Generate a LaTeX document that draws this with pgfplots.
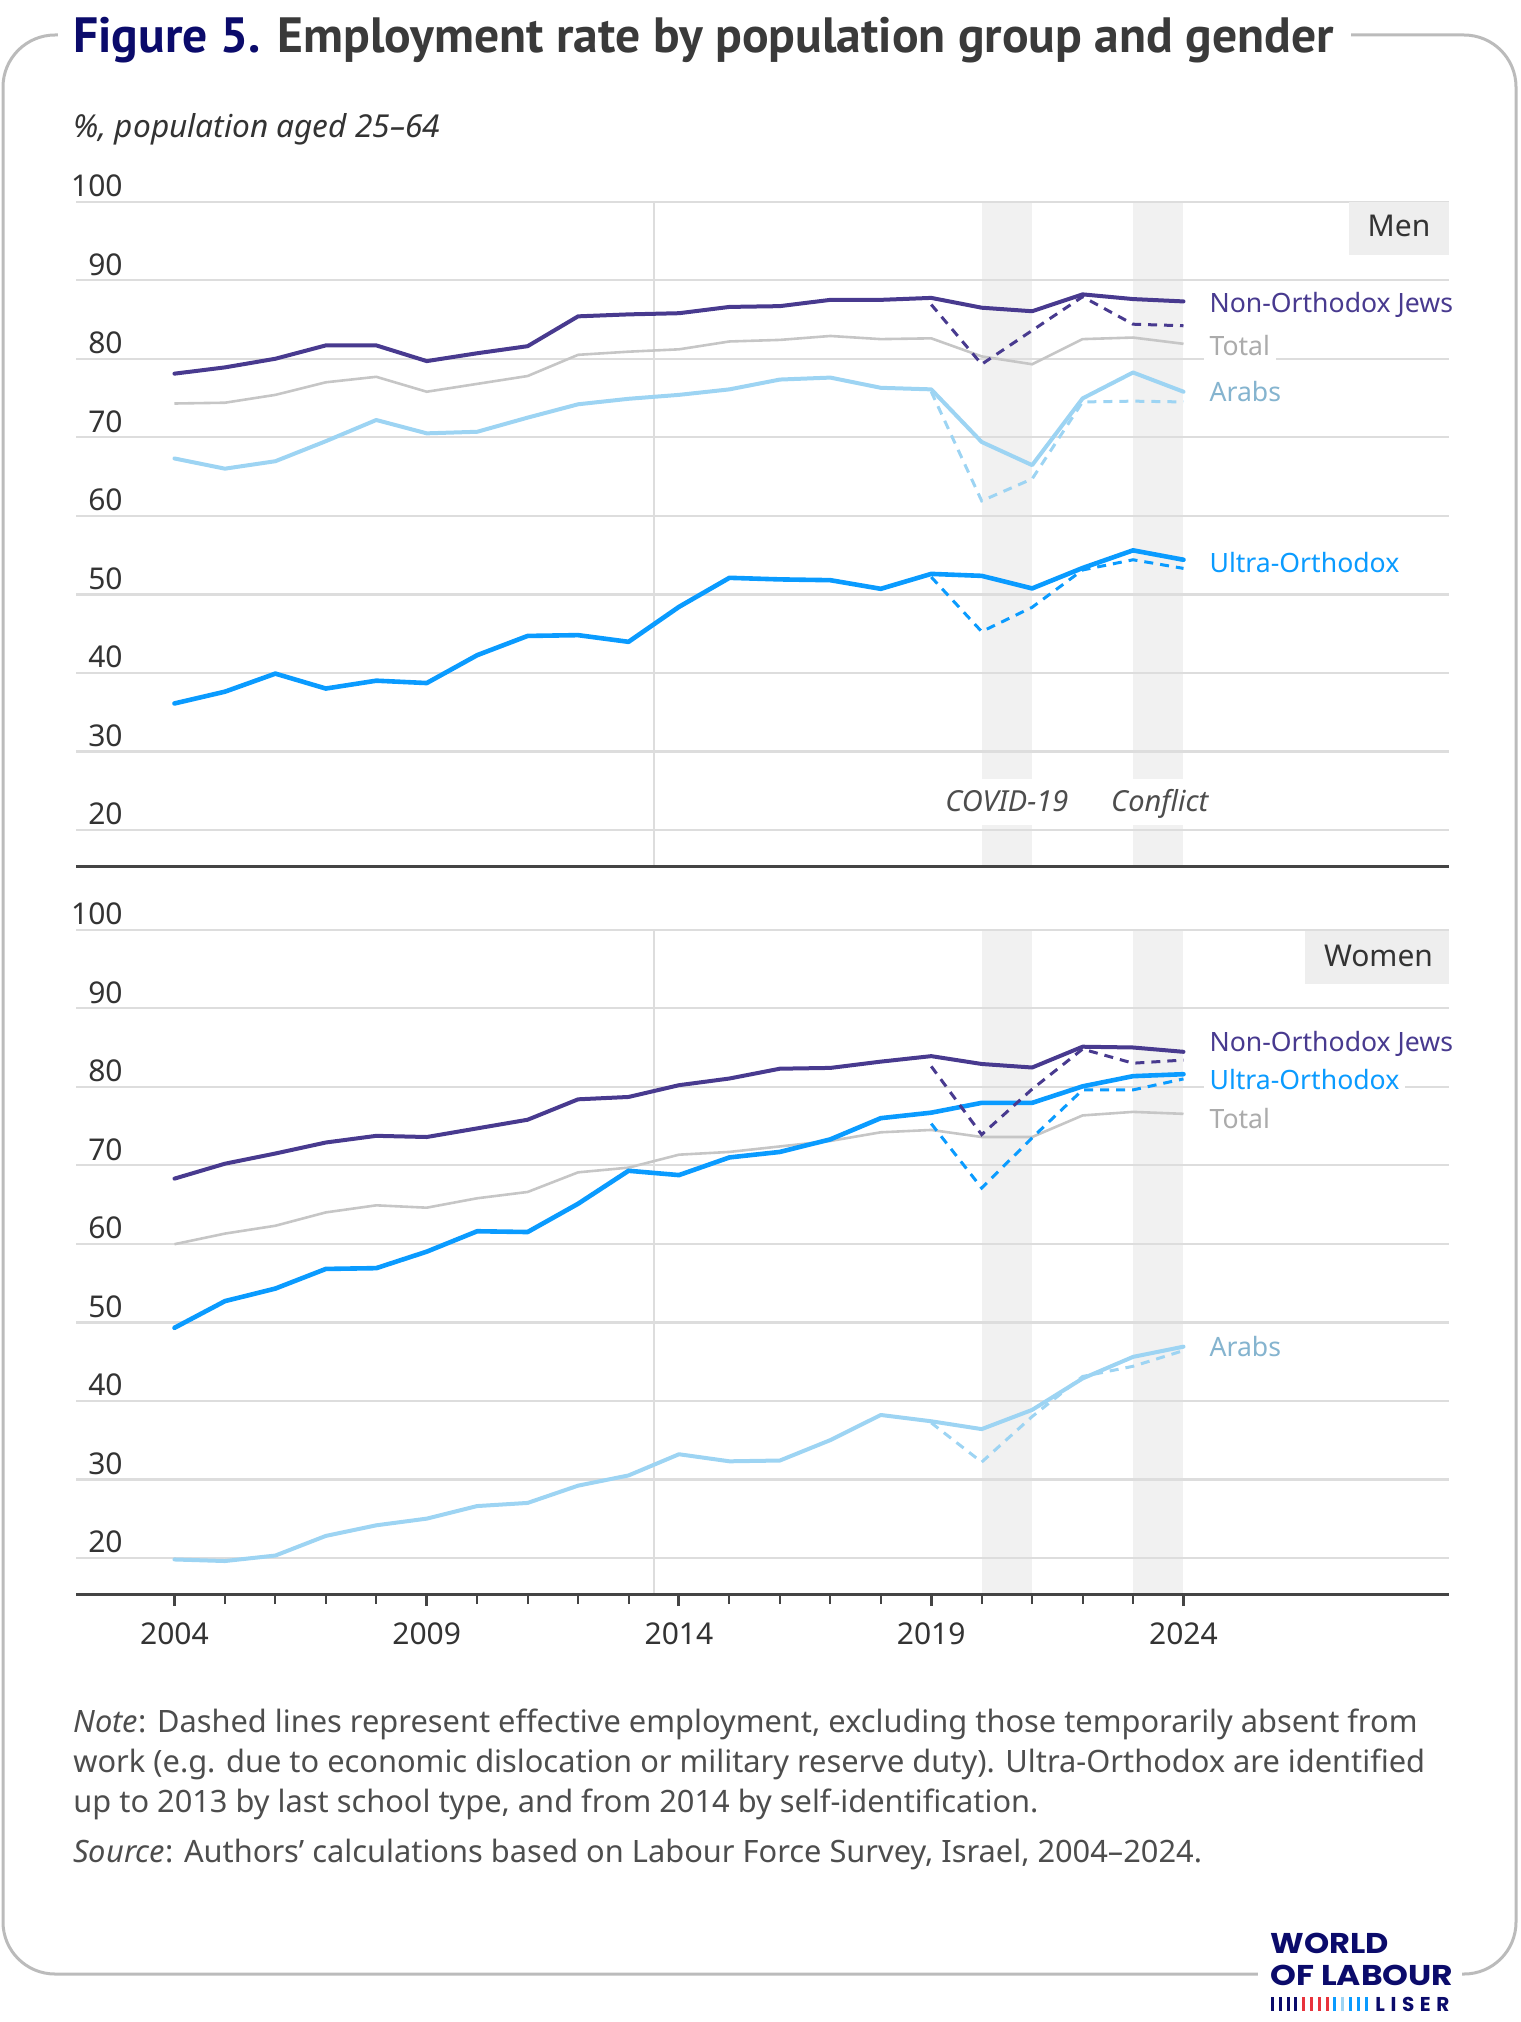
\documentclass[border=0pt]{standalone}
\usepackage{fontspec}
\setmainfont{Noto Sans}
\newfontfamily\titlefont{PT Sans}
\newfontfamily\logofont{Poppins}
\usepackage{pgfplots}
\usepackage{pgfplotstable}
\pgfplotsset{compat=1.18}

\definecolor{noj}{HTML}{483A8F}
\definecolor{uo}{HTML}{0A9BFF}
\definecolor{arab}{HTML}{9DD4F3}
\definecolor{tot}{HTML}{C6C6C6}
\definecolor{totlab}{HTML}{ABABAB}
\definecolor{gridc}{HTML}{DDDDDD}
\definecolor{shadec}{HTML}{F1F1F1}
\definecolor{axisc}{HTML}{444444}
\definecolor{txt}{HTML}{333333}
\definecolor{notec}{HTML}{4D4D4D}
\definecolor{navy}{HTML}{0B0B6B}
\definecolor{titleg}{HTML}{3A3A3A}
\definecolor{framec}{HTML}{BBBBBB}
\definecolor{boxc}{HTML}{EEEEEE}
\definecolor{lred}{HTML}{E8333C}

\pgfplotstableread{
year noj tot arab uo
2004 78.1 74.3 67.3 36.1
2005 78.9 74.4 66.0 37.6
2006 80.0 75.4 66.95 39.9
2007 81.7 77.0 69.5 38.0
2008 81.7 77.7 72.2 39.0
2009 79.7 75.8 70.5 38.7
2010 80.7 76.8 70.7 42.25
2011 81.6 77.8 72.5 44.7
2012 85.4 80.5 74.2 44.8
2013 85.65 80.9 74.9 43.95
2014 85.8 81.2 75.4 48.4
2015 86.6 82.2 76.1 52.1
2016 86.7 82.4 77.35 51.9
2017 87.5 82.9 77.6 51.8
2018 87.5 82.5 76.3 50.7
2019 87.75 82.6 76.1 52.6
2020 86.5 80.3 69.4 52.35
2021 86.05 79.3 66.45 50.75
2022 88.2 82.5 74.95 53.35
2023 87.6 82.7 78.25 55.6
2024 87.3 81.9 75.8 54.4
}\menT
\pgfplotstableread{
year noj arab uo
2019 86.9 75.8 52.2
2020 79.3 61.9 45.25
2021 83.6 64.7 48.35
2022 87.9 74.5 53.1
2023 84.4 74.6 54.4
2024 84.2 74.5 53.3
}\menD
\pgfplotstableread{
year noj tot arab uo
2004 68.3 59.95 19.8 49.3
2005 70.2 61.3 19.6 52.7
2006 71.5 62.3 20.3 54.3
2007 72.9 64.0 22.8 56.8
2008 73.75 64.9 24.15 56.9
2009 73.6 64.6 25.0 59.0
2010 74.7 65.8 26.6 61.6
2011 75.8 66.6 27.0 61.5
2012 78.4 69.1 29.2 65.1
2013 78.7 69.7 30.5 69.3
2014 80.2 71.35 33.2 68.75
2015 81.05 71.7 32.3 71.0
2016 82.3 72.4 32.4 71.7
2017 82.4 73.1 35.0 73.3
2018 83.2 74.2 38.2 76.0
2019 83.9 74.5 37.4 76.7
2020 82.9 73.6 36.4 77.95
2021 82.45 73.6 38.85 77.95
2022 85.1 76.35 42.85 80.05
2023 85.0 76.8 45.6 81.35
2024 84.45 76.55 46.9 81.6
}\womT
\pgfplotstableread{
year noj arab uo
2019 82.6 37.2 75.3
2020 73.9 32.2 67.1
2021 79.7 38.0 73.5
2022 84.8 43.1 79.6
2023 83.0 44.4 79.6
2024 83.4 46.4 81.0
}\womD

\newcommand{\labf}{\fontsize{13.3}{13.3}\selectfont}
\tikzset{
  solidl/.style={line width=2pt, line join=round, line cap=round},
  dashl/.style={line width=1.5pt, dash pattern=on 4.5pt off 3.5pt},
  lab/.style={anchor=base west, inner xsep=3pt, inner ysep=3pt, fill=white, font=\labf},
}
\pgfplotsset{
  panel/.style={
    scale only axis, width=686.5pt, height=332.15pt,
    xmin=2002.048, xmax=2029.263, ymin=15.4, ymax=100,
    set layers, clip=false,
    axis x line*=bottom, axis y line*=left,
    y axis line style={draw=none},
    x axis line style={draw=axisc, line width=1.5pt},
    ytick={20,30,...,100},
    yticklabels={20,30,40,50,60,70,80,90,100},
    ytick style={draw=none},
    ymajorgrids, grid style={draw=gridc, line width=1.2pt},
    yticklabel style={anchor=base east, inner sep=0pt, xshift=23.5pt, yshift=2.5pt,
      font=\fontsize{15}{15}\selectfont, text=txt},
    xticklabel style={anchor=base, inner sep=0pt, font=\fontsize{15}{15}\selectfont, text=txt},
  },
}

\begin{document}
\begin{tikzpicture}[x=0.5pt,y=-0.5pt]
\path (0,0) rectangle (1520,2022);
% frame
\draw[framec, line width=1.5pt, rounded corners=26pt] (3,35) rectangle (1516,1974);
\fill[white] (58,24) rectangle (1351,47);
\fill[white] (1258,1963) rectangle (1462,1986);
% title
\node[anchor=base west, inner sep=0pt, font=\titlefont\bfseries\fontsize{24.8}{24.8}\selectfont] at (73,53)
  {\textcolor{navy}{Figure 5.} \textcolor{titleg}{Employment rate by population group and gender}};
\node[anchor=base west, inner sep=0pt, font=\itshape\fontsize{15.8}{15.8}\selectfont, text=txt] at (73,138)
  {\%, population aged 25–64};

% ---------- Men ----------
\begin{axis}[panel, at={(38pt,-433pt)}, anchor=south west, xtick=\empty]
\begin{pgfonlayer}{axis background}
\fill[shadec] (axis cs:2020,15.4) rectangle (axis cs:2021,20.6);
\fill[shadec] (axis cs:2020,26.5) rectangle (axis cs:2021,100);
\fill[shadec] (axis cs:2023,15.4) rectangle (axis cs:2024,20.6);
\fill[shadec] (axis cs:2023,26.5) rectangle (axis cs:2024,100);
\draw[gridc, line width=1pt] (axis cs:2013.5,15.4) -- (axis cs:2013.5,100);
\end{pgfonlayer}
\addplot[tot, line width=1.3pt] table[x=year,y=tot] {\menT};
\addplot[arab, dashl] table[x=year,y=arab] {\menD};
\addplot[arab, solidl] table[x=year,y=arab] {\menT};
\addplot[uo, dashl] table[x=year,y=uo] {\menD};
\addplot[uo, solidl, line width=2.3pt] table[x=year,y=uo] {\menT};
\addplot[noj, dashl] table[x=year,y=noj] {\menD};
\addplot[noj, solidl] table[x=year,y=noj] {\menT};
\node[lab, text=noj] at (axis cs:2024.39,85.95) {Non-Orthodox Jews};
\node[lab, text=totlab] at (axis cs:2024.39,80.47) {Total};
\node[lab, text=arab!85!black] at (axis cs:2024.39,74.5) {Arabs};
\node[lab, text=uo] at (axis cs:2024.39,52.84) {Ultra-Orthodox};
\node[anchor=base, inner sep=0pt, font=\itshape\fontsize{14.5}{14.5}\selectfont, text=notec] at (axis cs:2020.5,22.4) {COVID-19};
\node[anchor=base, inner sep=0pt, font=\itshape\fontsize{14.5}{14.5}\selectfont, text=notec] at (axis cs:2023.53,22.4) {Conflict};
\end{axis}

% ---------- Women ----------
\begin{axis}[panel, at={(38pt,-797pt)}, anchor=south west,
  xtick={2004,2009,2014,2019,2024}, xticklabels={2004,2009,2014,2019,2024},
  minor xtick={2005,2006,2007,2008,2010,2011,2012,2013,2015,2016,2017,2018,2020,2021,2022,2023},
  tick align=outside, major tick length=6pt, minor tick length=5pt,
  major x tick style={draw=axisc, line width=1.5pt},
  minor x tick style={draw=axisc, line width=1pt},
  xticklabel style={yshift=-19pt},
  yticklabel style={xshift=6pt}]
\begin{pgfonlayer}{axis background}
\fill[shadec] (axis cs:2020,15.4) rectangle (axis cs:2021,100);
\fill[shadec] (axis cs:2023,15.4) rectangle (axis cs:2024,100);
\draw[gridc, line width=1pt] (axis cs:2013.5,15.4) -- (axis cs:2013.5,100);
\end{pgfonlayer}
\addplot[tot, line width=1.3pt] table[x=year,y=tot] {\womT};
\addplot[arab, dashl] table[x=year,y=arab] {\womD};
\addplot[arab, solidl] table[x=year,y=arab] {\womT};
\addplot[uo, dashl] table[x=year,y=uo] {\womD};
\addplot[uo, solidl, line width=2.3pt] table[x=year,y=uo] {\womT};
\addplot[noj, dashl] table[x=year,y=noj] {\womD};
\addplot[noj, solidl] table[x=year,y=noj] {\womT};
\node[lab, text=noj] at (axis cs:2024.39,84.48) {Non-Orthodox Jews};
\node[lab, text=uo] at (axis cs:2024.39,79.67) {Ultra-Orthodox};
\node[lab, text=totlab] at (axis cs:2024.39,74.69) {Total};
\node[lab, text=arab!85!black] at (axis cs:2024.39,45.6) {Arabs};
\end{axis}

% panel boxes
\fill[boxc] (1349,201.7) rectangle (1449,255);
\node[anchor=base, inner sep=0pt, font=\fontsize{15}{15}\selectfont, text=txt] at (1399,237) {Men};
\fill[boxc] (1305,930.6) rectangle (1449,984);
\node[anchor=base, inner sep=0pt, font=\fontsize{15}{15}\selectfont, text=txt] at (1378.5,966) {Women};

% notes
\begin{scope}[every node/.style={anchor=base west, inner sep=0pt, font=\fontsize{15.4}{15.4}\selectfont, text=notec}]
\node at (73,1732) {\textit{Note}: Dashed lines represent effective employment, excluding those temporarily absent from};
\node at (73,1772) {work (e.g. due to economic dislocation or military reserve duty). Ultra-Orthodox are identified};
\node at (73,1812) {up to 2013 by last school type, and from 2014 by self-identification.};
\node at (73,1862) {\textit{Source}: Authors' calculations based on Labour Force Survey, Israel, 2004–2024.};
\end{scope}

% logo
\node[anchor=base west, inner sep=0pt, font=\logofont\bfseries\fontsize{14.3}{14.3}\selectfont, text=navy] at (1270,1953) {\scalebox{1.12}[1]{WORLD}};
\node[anchor=base west, inner sep=0pt, font=\logofont\bfseries\fontsize{14.3}{14.3}\selectfont, text=navy] at (1270,1985) {\scalebox{1.15}[1]{OF LABOUR}};
\node[anchor=base west, inner sep=0pt, font=\logofont\bfseries\fontsize{10}{10}\selectfont\addfontfeatures{LetterSpace=28}, text=navy] at (1375,2011) {LISER};
\foreach \i/\c in {0/navy,1/navy,2/navy,3/navy,4/lred,5/lred,6/lred,7/lred,8/uo,9/arab,10/uo,11/uo,12/uo}
  {\fill[\c] ({1271+\i*7.8},1997) rectangle ++(3,14);}
\end{tikzpicture}
\end{document}
